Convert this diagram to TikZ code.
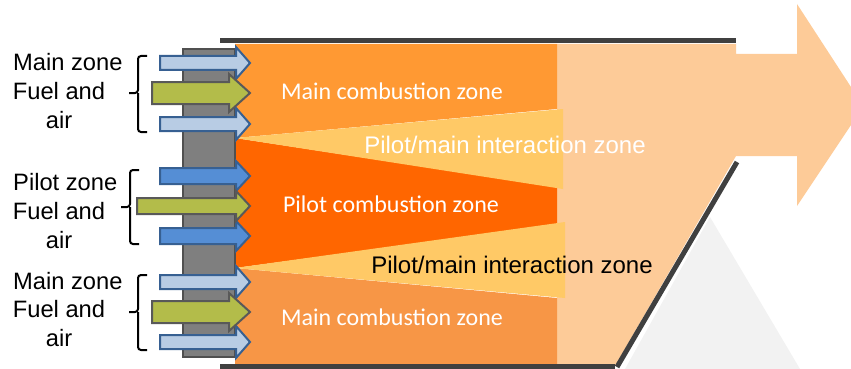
\documentclass[tikz,border=0pt]{standalone}
\usepackage{fontspec}
\setmainfont{Liberation Sans}
\newfontfamily\zonefont{Carlito}
\definecolor{wallgray}{HTML}{404040}
\definecolor{platefill}{HTML}{7F7F7F}
\definecolor{plateedge}{HTML}{505050}
\definecolor{exhaust}{HTML}{FDCB98}
\definecolor{mainA}{HTML}{FF9933}
\definecolor{mainB}{HTML}{F79646}
\definecolor{pilotzone}{HTML}{FF6600}
\definecolor{interact}{HTML}{FFC966}
\definecolor{airlight}{HTML}{B8CCE4}
\definecolor{airblue}{HTML}{558ED5}
\definecolor{airedge}{HTML}{376092}
\definecolor{fuelolive}{HTML}{B3BC4A}
\definecolor{fueledge}{HTML}{595959}
\begin{document}
\begin{tikzpicture}[x=1pt,y=-1pt,
  wall/.style={draw=wallgray,line width=5pt},
  lightair/.style={draw=airedge,fill=airlight,line width=2pt},
  blueair/.style={draw=airedge,fill=airblue,line width=2pt},
  fuel/.style={draw=fueledge,fill=fuelolive,line width=2pt},
  brace/.style={draw=black,line width=2pt,rounded corners=3pt},
  lab/.style={font=\fontsize{23.7}{29}\selectfont,inner sep=0pt},
  zonelab/.style={font=\zonefont\fontsize{24}{28}\selectfont,text=white,inner sep=0pt},
  inter/.style={font=\fontsize{24}{28}\selectfont,inner sep=0pt}]
  \useasboundingbox (0,0) rectangle (851,369);
  % casing
  \fill[black!5] (710,217) -- (800,369) -- (625,369) -- cycle;
  \fill[exhaust] (557,44) -- (736,44) -- (736,54) -- (797,54) -- (797,4) -- (851,87)
    -- (851,125) -- (797,206) -- (797,156) -- (736,156) -- (615,366) -- (557,366) -- cycle;
  \fill[mainA] (235,44) -- (557,44) -- (557,109) -- (235,138) -- cycle;
  \fill[pilotzone] (235,138) -- (557,187) -- (557,225) -- (235,268) -- cycle;
  \fill[mainB] (235,268) -- (557,298) -- (557,366) -- (235,366) -- cycle;
  \fill[interact] (235,138) -- (563,109) -- (563,189) -- cycle;
  \fill[interact] (235,268) -- (565,222) -- (565,298) -- cycle;
  \draw[wall] (220,41) -- (736,41);
  \draw[wall] (220,366) -- (615,366);
  \draw[wall] (737,162) -- (617,367);
  \draw[draw=plateedge,fill=platefill,line width=2pt] (183,49) rectangle (235,357);

  % air and fuel
  \foreach \y in {63,124,282,342}
    \draw[lightair] (160,\y-7) -- (236,\y-7) -- (236,\y-16) -- (250,\y) -- (236,\y+16)
      -- (236,\y+7) -- (160,\y+7) -- cycle;
  \foreach \y in {176,236}
    \draw[blueair] (160,\y-8) -- (236,\y-8) -- (236,\y-15) -- (250,\y) -- (236,\y+15)
      -- (236,\y+8) -- (160,\y+8) -- cycle;
  \foreach \y in {93,312}
    \draw[fuel] (152,\y-11) -- (229,\y-11) -- (229,\y-19) -- (250,\y) -- (229,\y+19)
      -- (229,\y+11) -- (152,\y+11) -- cycle;
  \draw[fuel] (137,198) -- (236,198) -- (236,191) -- (250,206) -- (236,221)
    -- (236,214) -- (137,214) -- cycle;

  % brackets
  \foreach \x/\a/\m/\b in {138/56/93/132,130/170/207/244,138/275/312/350} {
    \draw[brace] (\x+9,\a) -- (\x,\a) -- (\x,\m) -- (\x-9,\m);
    \draw[brace] (\x+9,\b) -- (\x,\b) -- (\x,\m);
  }

  % labels
  \node[lab,anchor=west] (mainTop) at (13,62) {Main zone};
  \node[lab] (fuelTop) at (59,91) {Fuel and};
  \node[lab] (airTop) at (59,120) {air};
  \node[lab,anchor=west] (pilot) at (13,182) {Pilot zone};
  \node[lab] (fuelMid) at (59,211) {Fuel and};
  \node[lab] (airMid) at (59,240) {air};
  \node[lab,anchor=west] (mainBot) at (13,281) {Main zone};
  \node[lab] (fuelBot) at (59,309) {Fuel and};
  \node[lab] (airBot) at (59,338) {air};

  \node[zonelab] (combTop) at (392,91) {Main combustion zone};
  \node[zonelab] (combMid) at (391,204) {Pilot combustion zone};
  \node[zonelab] (combBot) at (392,317) {Main combustion zone};
  \node[inter,text=white] (interTop) at (505,145) {Pilot/main interaction zone};
  \node[inter,text=black] (interBot) at (512,265) {Pilot/main interaction zone};
\end{tikzpicture}
\end{document}
